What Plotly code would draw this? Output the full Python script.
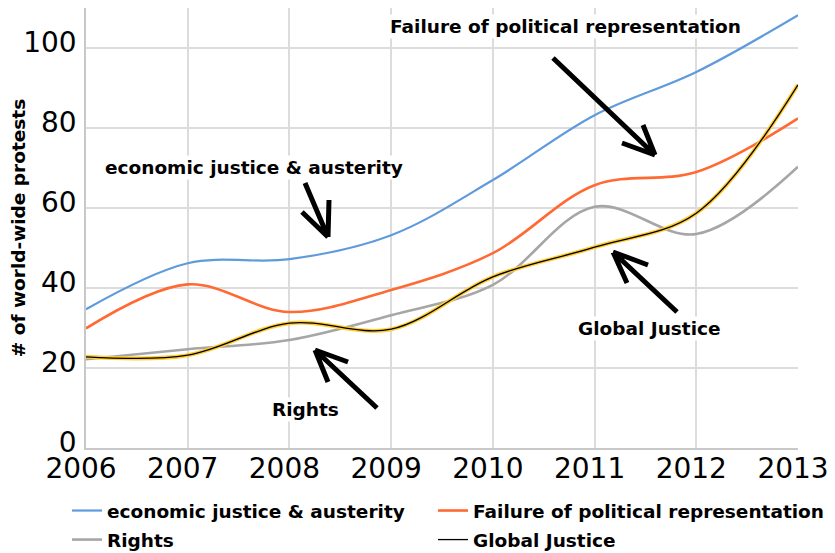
import plotly.graph_objects as go

years = [2006, 2007, 2008, 2009, 2010, 2011, 2012, 2013]
economic = [34.7, 46.2, 47.2, 53.2, 67.0, 83.2, 94.0, 108.2]
failure = [29.9, 40.9, 34.0, 39.5, 48.7, 65.7, 69.0, 82.4]
rights = [22.2, 24.7, 27.0, 33.2, 40.8, 60.3, 53.5, 70.3]
global_justice = [22.8, 23.2, 31.2, 29.7, 42.8, 50.2, 58.7, 90.8]

series_names = ["economic justice & austerity", "Failure of political representation",
                "Rights", "Global Justice"]
y_ticks = [0, 20, 40, 60, 80, 100]

# the page body adds an 8px offset; layout below is given in screen pixels
OFF = 8
SW, SH = 835, 553
W, H = SW - OFF, SH - OFF
L, R, T, B = 86 - OFF, 798 - OFF, 8 - OFF, 448 - OFF
X0, X1 = 2006, 2013
Y0, Y1 = 0, 110

def dx(sx):
    return X0 + (sx - OFF - L) * (X1 - X0) / (R - L)

def dy(sy):
    return Y0 + (B - (sy - OFF)) * (Y1 - Y0) / (B - T)

def px(sx):
    return (sx - OFF - L) / (R - L)

def py(sy):
    return (B - (sy - OFF)) / (B - T)

FONT = "DejaVu Sans"
fig = go.Figure()

fig.add_trace(go.Scatter(x=years, y=economic, name=series_names[0], mode="lines",
                         legend="legend", legendgroup="a",
                         line=dict(color="#5f9bdc", width=2.2, shape="spline", smoothing=1)))
fig.add_trace(go.Scatter(x=years, y=failure, name=series_names[1], mode="lines",
                         legend="legend2", legendgroup="b",
                         line=dict(color="#ff6a33", width=2.6, shape="spline", smoothing=1)))
fig.add_trace(go.Scatter(x=years, y=rights, name=series_names[2], mode="lines",
                         legend="legend", legendgroup="c",
                         line=dict(color="#a6a6a6", width=2.6, shape="spline", smoothing=1)))
fig.add_trace(go.Scatter(x=years, y=global_justice, name=series_names[3], mode="lines",
                         legend="legend2", legendgroup="d", showlegend=False, hoverinfo="skip",
                         line=dict(color="#ffcc33", width=4, shape="spline", smoothing=1)))
fig.add_trace(go.Scatter(x=years, y=global_justice, name=series_names[3], mode="lines",
                         legend="legend2", legendgroup="d",
                         line=dict(color="#000000", width=1.3, shape="spline", smoothing=1)))

# hand-drawn style arrows (screen pixel positions in the reference, mapped to data)
arrows = [
    ((305, 183), (328, 237), [(302, 212), (329, 200)]),
    ((553, 58), (655, 155), [(622, 143), (643, 125)]),
    ((377, 408), (315, 350), [(348, 362), (328, 382)]),
    ((677, 312), (613, 252), [(648, 265), (627, 283)]),
]
for tail, tip, heads in arrows:
    p = f"M {dx(tail[0])},{dy(tail[1])} L {dx(tip[0])},{dy(tip[1])}"
    for h in heads:
        p += f" M {dx(h[0])},{dy(h[1])} L {dx(tip[0])},{dy(tip[1])}"
    fig.add_shape(type="path", path=p, xref="x", yref="y",
                  line=dict(color="black", width=5))

labels = [
    ("economic justice & austerity", 253.5, 167),
    ("Failure of political representation", 565, 26),
    ("Global Justice", 649.5, 328),
    ("Rights", 305, 409),
]
for txt, sx, sy in labels:
    fig.add_annotation(x=dx(sx), y=dy(sy), xref="x", yref="y", text=txt, showarrow=False,
                       xanchor="center", yanchor="middle", bgcolor="white",
                       font=dict(family=FONT, size=18.5, color="black", weight="bold"))

legend_font = dict(family=FONT, size=18.5, color="black", weight="bold")
fig.update_layout(
    width=W, height=H, autosize=False,
    margin=dict(l=L, r=W - R, t=T, b=H - B, autoexpand=False),
    plot_bgcolor="white", paper_bgcolor="white",
    font=dict(family=FONT, color="black"),
    showlegend=True,
    legend=dict(orientation="v", x=px(67), xanchor="left", y=py(492), yanchor="top",
                font=legend_font, bgcolor="rgba(0,0,0,0)", tracegroupgap=2),
    legend2=dict(orientation="v", x=px(433), xanchor="left", y=py(492), yanchor="top",
                 font=legend_font, bgcolor="rgba(0,0,0,0)", tracegroupgap=2),
    xaxis=dict(range=[X0, X1], tickmode="array", tickvals=years,
               ticktext=[str(y) for y in years], showgrid=True, gridcolor="#dcdcdc",
               gridwidth=1.5, showline=True, linecolor="#c8c8c8", linewidth=1.5,
               zeroline=False, ticks="", automargin=False, ticklabelstandoff=-5,
               ticklabelshift=-5,
               tickfont=dict(family=FONT, size=28, color="black")),
    yaxis=dict(range=[Y0, Y1], tickmode="array", tickvals=y_ticks,
               ticktext=[str(v) for v in y_ticks], showgrid=True, gridcolor="#dcdcdc",
               gridwidth=1.5, showline=True, linecolor="#c8c8c8", linewidth=1.5,
               zeroline=False, ticks="", ticklabelstandoff=2, ticklabelshift=-6,
               automargin=False,
               tickfont=dict(family=FONT, size=28, color="black"),
               title=dict(text="# of world-wide protests", standoff=0,
                          font=dict(family=FONT, size=18.5, color="black", weight="bold"))),
)

fig.write_html("out.html")
